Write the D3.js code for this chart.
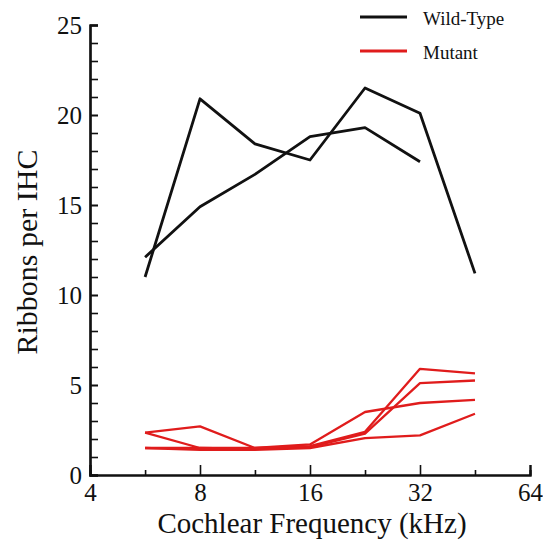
<!DOCTYPE html>
<html>
<head>
<meta charset="utf-8">
<script src="https://cdn.jsdelivr.net/npm/d3@7"></script>
<style>
  body { margin: 0; background: #fff; }
  svg text { font-family: "Liberation Serif", "DejaVu Serif", serif; fill: #111; }
</style>
</head>
<body>
<svg id="chart" width="543" height="548"></svg>
<script>
// frequencies (kHz) sampled at half-octave steps
let freqs = [5.66, 8, 11.31, 16, 22.63, 32, 45.25];

// wild-type ribbons per IHC
let wildType1 = [11.0, 20.9, 18.4, 17.5, 21.5, 20.1, 11.2];
let wildType2 = [12.1, 14.9, 16.7, 18.8, 19.3, 17.4];

// mutant ribbons per IHC
let mutant1 = [2.35, 2.7, 1.5, 1.6, 2.4, 5.9, 5.65];
let mutant2 = [2.35, 1.5, 1.45, 1.55, 2.3, 5.1, 5.25];
let mutant3 = [1.5, 1.5, 1.5, 1.7, 3.5, 4.0, 4.17];
let mutant4 = [1.5, 1.4, 1.4, 1.5, 2.05, 2.2, 3.4];

let xMajor = [4, 8, 16, 32, 64];
let xMinor = [5.66, 11.31, 22.63, 45.25];
let yMajor = [0, 5, 10, 15, 20, 25];
let yMinor = d3.range(0, 26, 1);

let legendItems = [
  { name: 'Wild-Type', color: '#111' },
  { name: 'Mutant', color: '#e01c1c' }
];

let svg = d3.select('#chart');

let x = d3.scaleLog().base(2).domain([4, 64]).range([90, 530]);
let y = d3.scaleLinear().domain([0, 25]).range([475, 25]);

let line = d3.line()
  .x(function(d) { return x(d[0]); })
  .y(function(d) { return y(d[1]); });

function drawSeries(values, color, width) {
  let pts = values.map(function(v, i) { return [freqs[i], v]; });
  svg.append('path')
    .attr('d', line(pts))
    .attr('fill', 'none')
    .attr('stroke', color)
    .attr('stroke-width', width)
    .attr('stroke-linejoin', 'round');
}

// axes - ticks point inward
let yMinorAxis = d3.axisLeft(y).tickValues(yMinor).tickSize(-8).tickFormat('');
let yMajorAxis = d3.axisLeft(y).tickValues(yMajor).tickSize(-8).tickPadding(8);
let xMinorAxis = d3.axisBottom(x).tickValues(xMinor).tickSize(-5).tickFormat('');
let xMajorAxis = d3.axisBottom(x).tickValues(xMajor).tickSize(-10).tickPadding(8)
  .tickFormat(d3.format('d'));

function styleAxis(g) {
  g.attr('font-family', null);
  g.select('.domain').attr('stroke', '#111').attr('stroke-width', 2.2);
  g.selectAll('.tick line').attr('stroke', '#111').attr('stroke-width', 1.6);
  g.selectAll('.tick text').attr('font-size', 25).attr('fill', '#111');
}

svg.append('g').attr('transform', 'translate(90,0)').call(yMinorAxis).call(styleAxis);
svg.append('g').attr('transform', 'translate(90,0)').call(yMajorAxis).call(styleAxis);
svg.append('g').attr('transform', 'translate(0,475)').call(xMinorAxis).call(styleAxis);
svg.append('g').attr('transform', 'translate(0,475)').call(xMajorAxis).call(styleAxis);

// series
drawSeries(mutant4, '#e01c1c', 2.3);
drawSeries(mutant3, '#e01c1c', 2.3);
drawSeries(mutant2, '#e01c1c', 2.3);
drawSeries(mutant1, '#e01c1c', 2.3);
drawSeries(wildType1, '#111', 2.8);
drawSeries(wildType2, '#111', 2.8);

// axis titles
svg.append('text')
  .attr('x', 312)
  .attr('y', 533)
  .attr('text-anchor', 'middle')
  .attr('font-size', 29)
  .text('Cochlear Frequency (kHz)');

svg.append('text')
  .attr('transform', 'translate(37,252) rotate(-90)')
  .attr('text-anchor', 'middle')
  .attr('font-size', 30)
  .text('Ribbons per IHC');

// legend
let legend = svg.selectAll('g.legend')
  .data(legendItems)
  .join('g')
  .attr('class', 'legend')
  .attr('transform', function(d, i) { return 'translate(360,' + (17 + i * 34) + ')'; });

legend.append('line')
  .attr('x1', 0).attr('x2', 47)
  .attr('stroke', function(d) { return d.color; })
  .attr('stroke-width', 2.8);

legend.append('text')
  .attr('x', 63)
  .attr('y', 8)
  .attr('font-size', 19)
  .text(function(d) { return d.name; });
</script>
</body>
</html>
